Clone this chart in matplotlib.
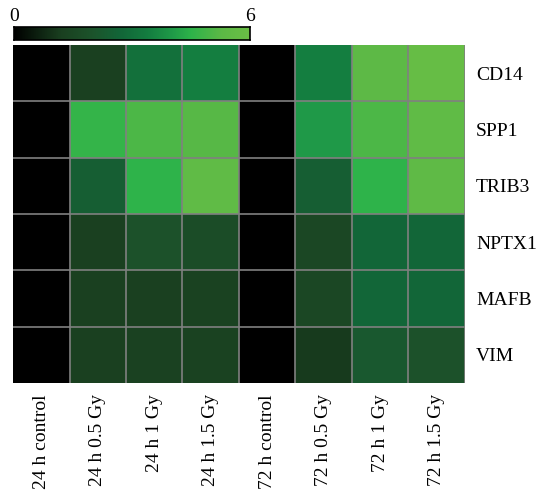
import numpy as np
import matplotlib.pyplot as plt
from matplotlib.colors import LinearSegmentedColormap

plt.rcParams['font.family'] = ['Liberation Serif', 'DejaVu Serif']

conditions = ['24 h control', '24 h 0.5 Gy', '24 h 1 Gy', '24 h 1.5 Gy',
              '72 h control', '72 h 0.5 Gy', '72 h 1 Gy', '72 h 1.5 Gy']
genes = ['CD14', 'SPP1', 'TRIB3', 'NPTX1', 'MAFB', 'VIM']

# log2 fold change per gene (rows) and condition (columns)
cd14 = [0, 1.2, 3.0, 3.4, 0, 3.4, 5.3, 5.8]
spp1 = [0, 4.6, 5.0, 5.2, 0, 4.0, 5.0, 5.5]
trib3 = [0, 2.4, 4.5, 5.5, 0, 2.4, 4.5, 5.4]
nptx1 = [0, 1.2, 1.9, 1.7, 0, 1.5, 2.7, 2.7]
mafb = [0, 1.2, 1.2, 1.3, 0, 1.5, 2.7, 2.7]
vim = [0, 1.2, 1.25, 1.3, 0, 1.1, 2.2, 1.9]

vmin, vmax = 0, 6

cmap = LinearSegmentedColormap.from_list('blackgreen', [
    (0.0, '#000000'),
    (0.2, '#1a4020'),
    (0.33, '#1c532b'),
    (0.45, '#126638'),
    (0.57, '#147e40'),
    (0.67, '#1f9a48'),
    (0.75, '#2db34a'),
    (0.88, '#5cb946'),
    (1.0, '#6abf45'),
])

data = np.array([cd14, spp1, trib3, nptx1, mafb, vim])
nrow, ncol = data.shape

fig = plt.figure(figsize=(5.39, 4.93), dpi=100)
W, H = 539, 493

ax = fig.add_axes([13 / W, 1 - 383 / H, 452 / W, 338 / H])
ax.pcolormesh(data, cmap=cmap, vmin=vmin, vmax=vmax)
# grey cell separators (inner lines plus the right edge)
for x in range(1, ncol + 1):
    ax.axvline(x, color='#808080', lw=1.2)
for y in range(1, nrow):
    ax.axhline(y, color='#808080', lw=1.2)
ax.set_xlim(0, ncol)
ax.set_ylim(nrow, 0)
ax.set_xticks(np.arange(ncol) + 0.5)
ax.set_xticklabels(conditions, rotation=90, fontsize=14)
ax.set_yticks(np.arange(nrow) + 0.5)
ax.set_yticklabels(genes, fontsize=14)
ax.yaxis.tick_right()
ax.tick_params(length=0, pad=8)
for s in ax.spines.values():
    s.set_visible(False)

# colour scale bar
cax = fig.add_axes([14 / W, 1 - 40 / H, 236 / W, 13 / H])
gradient = np.linspace(vmin, vmax, 256)[None, :]
cax.imshow(gradient, cmap=cmap, aspect='auto', vmin=vmin, vmax=vmax,
           extent=[vmin, vmax, 0, 1])
cax.set_xticks([])
cax.set_yticks([])
for s in cax.spines.values():
    s.set_linewidth(1.2)
cax.text(vmin, 1.15, '0', ha='center', va='bottom', fontsize=14,
         transform=cax.transData)
cax.text(vmax, 1.15, '6', ha='center', va='bottom', fontsize=14,
         transform=cax.transData)

fig.savefig('out.png', dpi=100)
